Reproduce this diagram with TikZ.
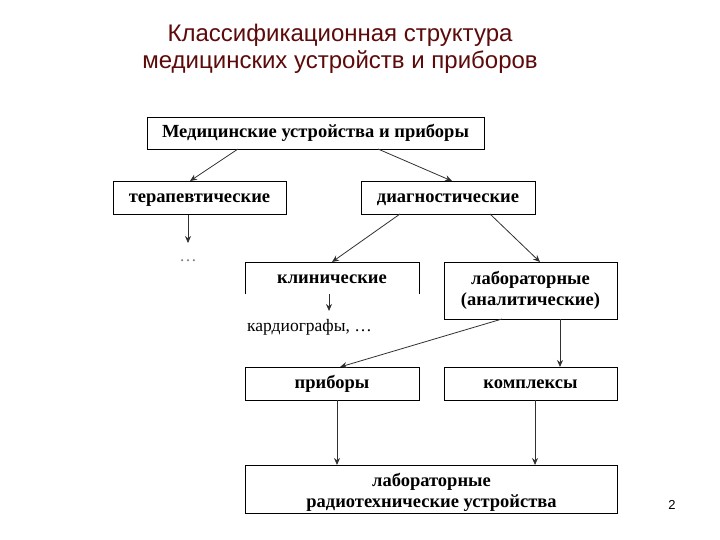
\documentclass[tikz,border=0pt]{standalone}
\usepackage{fontspec}
\setmainfont{Liberation Serif}
\newfontfamily\titlefont{Liberation Sans}
\usetikzlibrary{arrows.meta}
\definecolor{titlered}{HTML}{5C0A0A}
\definecolor{linegray}{HTML}{303030}
\tikzset{
  boxfont/.style={font=\bfseries\fontsize{18.5}{21}\selectfont},
  box/.style={draw=black, line width=0.9pt, inner sep=0pt, boxfont, text height=8.5pt, text depth=0pt},
  box2/.style={draw=black, line width=0.9pt, inner sep=0pt, boxfont, align=center},
  conn/.style={draw=linegray, line width=0.8pt, -{Stealth[length=7pt,width=6pt]}},
  plain/.style={font=\fontsize{17.5}{20}\selectfont, inner sep=0pt}
}
\begin{document}
\begin{tikzpicture}[x=1pt,y=-1pt]
\useasboundingbox (0,0) rectangle (720,540);
\node[font=\titlefont\fontsize{24}{27}\selectfont, text=titlered, align=center] (title) at (340,49) {Классификационная структура\\медицинских устройств и приборов};
\node[box, minimum width=337pt, minimum height=32pt] (top) at (315.5,133) {Медицинские устройства и приборы};
\node[box, minimum width=173pt, minimum height=33pt] (ther) at (199.5,198) {терапевтические};
\node[box, minimum width=174pt, minimum height=33pt] (diag) at (448,198) {диагностические};
\coordinate (klinNW) at (245,262);
\coordinate (klinNE) at (419,262);
\coordinate (klinSW) at (245,294);
\coordinate (klinSE) at (419,294);
\draw[line width=0.9pt] (klinSW) -- (klinNW) -- (klinNE) -- (klinSE);
\node[boxfont, inner sep=0pt, text height=8.5pt, text depth=0pt] (klin) at (332,279) {клинические};
\node[box2, minimum width=173pt, minimum height=57pt] (lab) at (530.5,290.5) {лабораторные\\(аналитические)};
\node[box, minimum width=174pt, minimum height=33pt] (prib) at (332,384) {приборы};
\node[box, minimum width=173pt, minimum height=33pt] (komp) at (530.5,384) {комплексы};
\node[draw=black, line width=0.9pt, minimum width=372pt, minimum height=48pt, inner sep=0pt] (bot) at (431.5,489) {};
\node[boxfont, align=center, inner sep=0pt] (botlabel) at (431.5,492) {лабораторные\\радиотехнические устройства};
\node[plain, text=gray] (dots) at (188,261) {…};
\node[plain, anchor=west] (kard) at (247,327) {кардиографы, …};
\node[font=\titlefont\fontsize{13}{15}\selectfont, inner sep=0pt] (pagenum) at (672,505) {2};
\coordinate (tA) at (238,149);
\coordinate (tB) at (378,149);
\draw[conn] (tA) -- (190,181);
\draw[conn] (tB) -- (452,181);
\draw[conn] (ther.south -| 188,0) -- (188,243);
\draw[conn] (400,214) -- (332,262);
\draw[conn] (490,214) -- (540,262);
\draw[conn] (329,294) -- (329,311);
\draw[conn] (502,319) -- (340,367);
\draw[conn] (560,319) -- (560,367);
\draw[conn] (337,400) -- (337,465);
\draw[conn] (535,400) -- (535,465);
\end{tikzpicture}
\end{document}
